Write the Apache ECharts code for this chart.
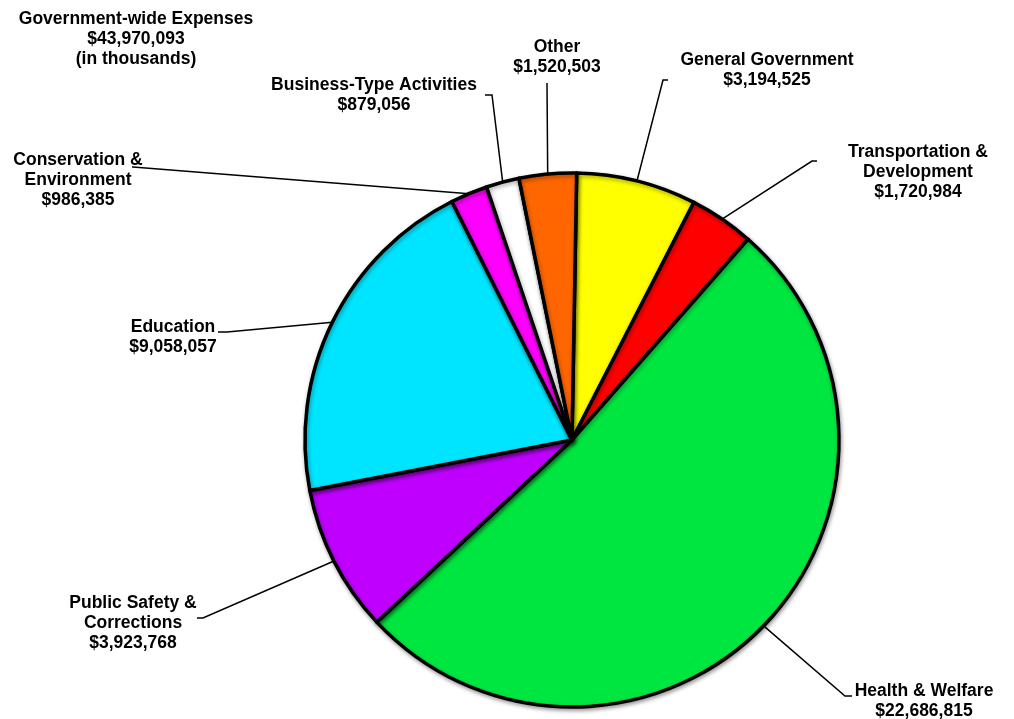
<!DOCTYPE html>
<html>
<head>
<meta charset="utf-8">
<script src="https://cdn.jsdelivr.net/npm/echarts@6/dist/echarts.min.js"></script>
<style>
  html, body { margin: 0; padding: 0; background: #fff; }
  #chart { width: 1014px; height: 719px; }
</style>
</head>
<body>
<div id="chart"></div>
<script>
// slices in clockwise order from 12 o'clock
const categories = [
    'General Government',
    'Transportation &\nDevelopment',
    'Health & Welfare',
    'Public Safety &\nCorrections',
    'Education',
    'Conservation &\nEnvironment',
    'Business-Type Activities',
    'Other',
]
const expenses = [3194525, 1720984, 22686815, 3923768, 9058057, 986385, 879056, 1520503]
const totalExpenses = 43970093

const sliceColors = ['#FFFF00', '#FF0000', '#00E640', '#BF00FF', '#00E5FF', '#FF00FF', '#FFFFFF', '#FF6600']

// where each label sits and where its leader line meets it
const labelSpots = [
    { x: 767, y: 70, bend: [663, 80], end: [668, 80] },
    { x: 918, y: 172, bend: [812, 161], end: [817, 161] },
    { x: 924, y: 701, bend: [845, 696], end: [852, 696] },
    { x: 133, y: 623, bend: [203, 618], end: [197, 618] },
    { x: 173, y: 337, bend: [227, 332], end: [218, 332] },
    { x: 78, y: 180, bend: [133, 167], end: [132, 167] },
    { x: 374, y: 95, bend: [492, 95], end: [485, 95] },
    { x: 557, y: 57, bend: [547, 84], end: [547, 83] },
]

const money = (v) => '$' + v.toLocaleString('en-US')

const font = {
    fontFamily: '"Liberation Sans", Arial, sans-serif',
    fontWeight: 'bold',
    fontSize: 17.5,
    lineHeight: 20,
    color: '#000',
}

const chart = echarts.init(document.getElementById('chart'), null, { renderer: 'canvas' })

chart.setOption({
    animation: false,
    backgroundColor: '#fff',
    title: {
        text: 'Government-wide Expenses\n' + money(totalExpenses) + '\n(in thousands)',
        left: 136,
        top: 9,
        padding: 0,
        textAlign: 'center',
        textStyle: { ...font },
    },
    series: [
        {
            type: 'pie',
            center: [572, 440],
            radius: 267,
            startAngle: 89,
            clockwise: true,
            avoidLabelOverlap: false,
            minShowLabelAngle: 0,
            itemStyle: {
                borderColor: '#000',
                borderWidth: 3.5,
                shadowColor: 'rgba(0, 0, 0, 0.35)',
                shadowBlur: 4,
                shadowOffsetX: 1,
                shadowOffsetY: 2,
            },
            label: {
                show: true,
                position: 'outside',
                formatter: (p) => p.name + '\n' + money(p.value),
                align: 'center',
                ...font,
            },
            labelLine: {
                show: true,
                length: 10,
                length2: 10,
                lineStyle: { color: '#000', width: 1.5 },
            },
            labelLayout: (params) => {
                const spot = labelSpots[params.dataIndex]
                const start = params.labelLinePoints ? params.labelLinePoints[0] : spot.bend
                return {
                    x: spot.x,
                    y: spot.y,
                    align: 'center',
                    verticalAlign: 'middle',
                    labelLinePoints: [start.slice(), spot.bend.slice(), spot.end.slice()],
                }
            },
            emphasis: { disabled: true },
            data: categories.map((name, i) => ({
                name: name,
                value: expenses[i],
                itemStyle: { color: sliceColors[i] },
            })),
        },
    ],
})
</script>
</body>
</html>
